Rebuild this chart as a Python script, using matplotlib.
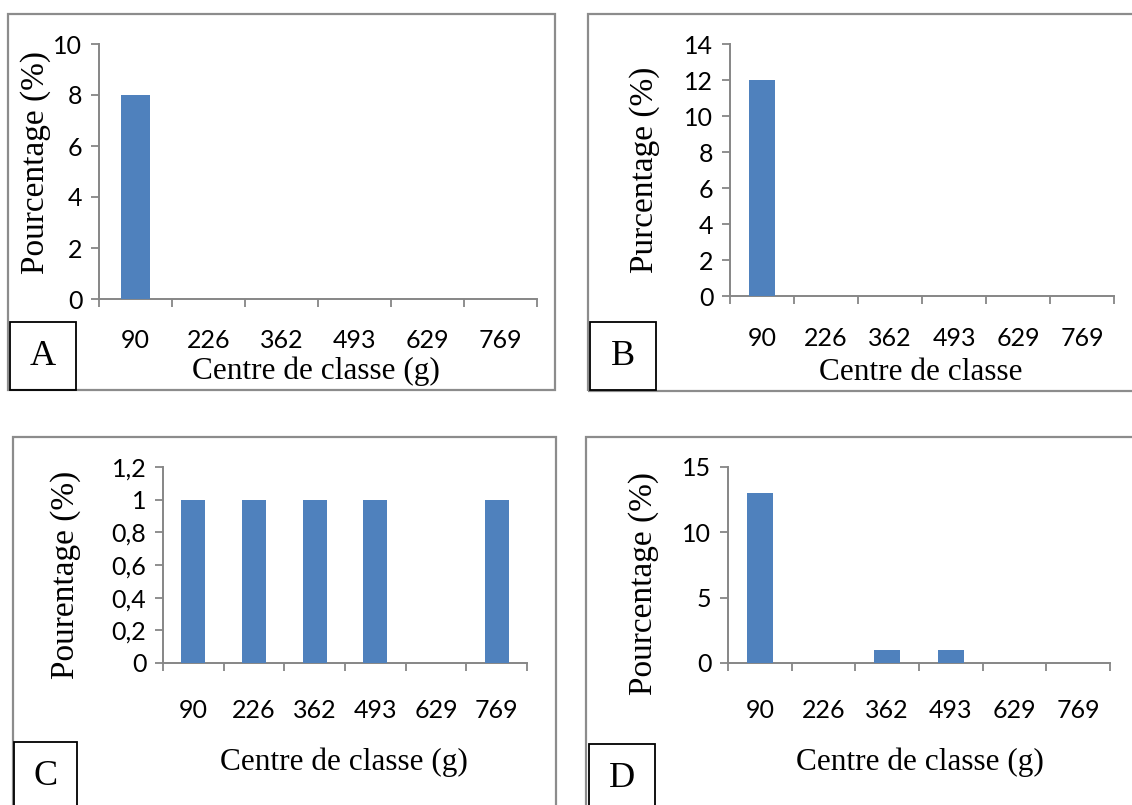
import matplotlib
matplotlib.use("Agg")
import matplotlib.pyplot as plt
from matplotlib.patches import Rectangle
import numpy as np

W, H = 1132, 805
DPI = 100

categories = ["90", "226", "362", "493", "629", "769"]

values_a = [8, 0, 0, 0, 0, 0]
values_b = [12, 0, 0, 0, 0, 0]
values_c = [1, 1, 1, 1, 0, 1]
values_d = [13, 0, 1, 1, 0, 0]

yticks_a = [0, 2, 4, 6, 8, 10]
yticks_b = [0, 2, 4, 6, 8, 10, 12, 14]
yticks_c = [0, 0.2, 0.4, 0.6, 0.8, 1.0, 1.2]
yticks_d = [0, 5, 10, 15]

ylabel_a = "Pourcentage (%)"
ylabel_b = "Purcentage (%)"
ylabel_c = "Pourentage (%)"
ylabel_d = "Pourcentage (%)"

xlabel_a = "Centre de classe (g)"
xlabel_b = "Centre de classe"
xlabel_c = "Centre de classe (g)"
xlabel_d = "Centre de classe (g)"

BAR = "#4F81BD"
AXIS = "#868686"
SERIF = "Liberation Serif"
SANS = "Lato"

fig = plt.figure(figsize=(W / DPI, H / DPI), dpi=DPI)


def px_rect(x0, y0, x1, y1):
    return [x0 / W, 1 - y1 / H, (x1 - x0) / W, (y1 - y0) / H]


def fx(x):
    return x / W


def fy(y):
    return 1 - y / H


def fmt_comma(v):
    s = f"{v:g}"
    return s.replace(".", ",")


def letter_center(x0, y0, x1, y1):
    return (x0 + x1) / 2, min(y0 + 34, (y0 + y1) / 2 + 2)


def panel(box, letter_box, axes_px, values, yticks, ylabel, xlabel,
          ylabel_pos, xlabel_pos, letter, tick_pad):
    # outer panel frame
    bx0, by0, bx1, by1 = box
    fig.patches.append(Rectangle((fx(bx0), fy(by1)), fx(bx1 - bx0), (by1 - by0) / H,
                                 transform=fig.transFigure, fill=False,
                                 edgecolor="#8c8c8c", linewidth=1.6, zorder=0))
    # small framed panel letter
    lx0, ly0, lx1, ly1 = letter_box
    fig.patches.append(Rectangle((fx(lx0), fy(ly1)), fx(lx1 - lx0), (ly1 - ly0) / H,
                                 transform=fig.transFigure, fill=False,
                                 edgecolor="black", linewidth=1.3, zorder=1))
    cx, cy = letter_center(lx0, ly0, lx1, ly1)
    fig.text(fx(cx), fy(cy), letter, family=SERIF, fontsize=26,
             ha="center", va="center")

    ax = fig.add_axes(px_rect(*axes_px))
    n = len(categories)
    x = np.arange(n)
    ax.bar(x, values, width=0.4, color=BAR, zorder=3)
    ax.set_xlim(-0.5, n - 0.5)
    ax.set_ylim(yticks[0], yticks[-1])

    for side in ("top", "right"):
        ax.spines[side].set_visible(False)
    for side in ("left", "bottom"):
        ax.spines[side].set_color(AXIS)
        ax.spines[side].set_linewidth(1.4)

    ax.set_yticks(yticks)
    ax.set_yticklabels([fmt_comma(v) for v in yticks], family=SANS, fontsize=18)
    ax.tick_params(axis="y", length=6, width=1.3, color=AXIS, pad=6)

    # boundary ticks between classes, labels centred under each bar
    ax.set_xticks(np.arange(n + 1) - 0.5)
    ax.set_xticklabels([""] * (n + 1))
    ax.tick_params(axis="x", which="major", length=6, width=1.3, color=AXIS)
    ax.set_xticks(x, minor=True)
    ax.set_xticklabels(categories, minor=True, family=SANS, fontsize=18)
    ax.tick_params(axis="x", which="minor", length=0, pad=tick_pad)
    ax.set_facecolor("none")

    fig.text(fx(xlabel_pos[0]), fy(xlabel_pos[1]), xlabel, family=SERIF,
             fontsize=22.5, ha="center", va="center")
    fig.text(fx(ylabel_pos[0]), fy(ylabel_pos[1]), ylabel, family=SERIF,
             fontsize=24, ha="center", va="center", rotation=90)
    return ax


panel((7.5, 14, 555, 390), (10, 322, 76, 390), (99, 44, 537, 299),
      values_a, yticks_a, ylabel_a, xlabel_a, (36, 163), (316, 371), "A", 21.5)
panel((588, 14, 1140, 391), (590, 322, 656, 390), (730, 44, 1114, 296),
      values_b, yticks_b, ylabel_b, xlabel_b, (645, 170), (921, 372), "B", 22.5)
panel((13, 437, 556, 820), (14, 742, 77, 820), (163, 467, 527, 663),
      values_c, yticks_c, ylabel_c, xlabel_c, (66, 575), (344, 762), "C", 26)
panel((586, 437, 1140, 820), (589, 744, 655, 820), (728, 467, 1110, 663),
      values_d, yticks_d, ylabel_d, xlabel_d, (644, 583), (920, 762), "D", 26)

fig.savefig("out.png", dpi=DPI, facecolor="white")
